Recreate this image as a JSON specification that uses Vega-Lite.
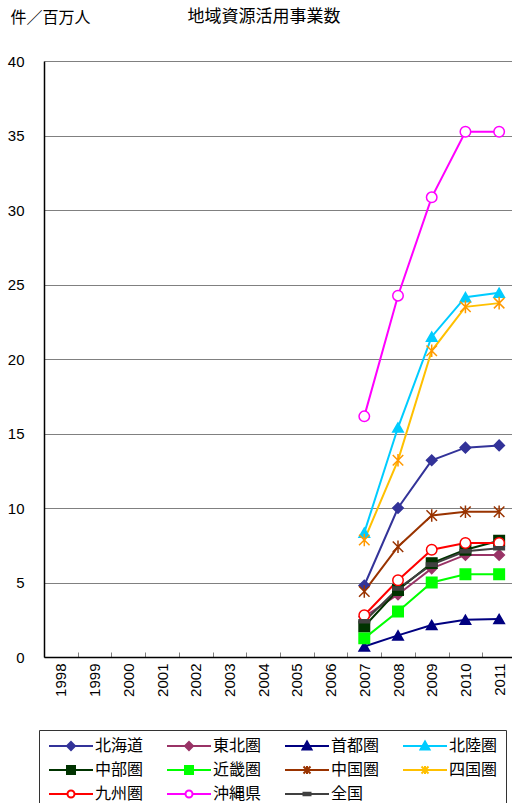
{
  "$schema": "https://vega.github.io/schema/vega-lite/v6.json",
  "autosize": {"type": "none"},
  "padding": {"left": 44, "top": 61, "right": 0, "bottom": 146},
  "width": 468,
  "height": 596,
  "background": "white",
  "title": {"text": "地域資源活用事業数", "anchor": "middle", "frame": "group", "dx": -14, "offset": 0, "dy": 25, "baseline": "middle", "fontSize": 17, "fontWeight": "normal", "font": "Noto Sans CJK JP", "color": "black"},
  "config": {"view": {"stroke": null}},
  "resolve": {"legend": {"color": "independent", "shape": "independent", "fill": "independent", "stroke": "independent"}},
  "data": {"values": [
    {"region": "北海道", "year": "2007", "value": 4.8},
    {"region": "北海道", "year": "2008", "value": 10.0},
    {"region": "北海道", "year": "2009", "value": 13.2},
    {"region": "北海道", "year": "2010", "value": 14.05},
    {"region": "北海道", "year": "2011", "value": 14.2},
    {"region": "東北圏", "year": "2007", "value": 2.7},
    {"region": "東北圏", "year": "2008", "value": 4.2},
    {"region": "東北圏", "year": "2009", "value": 5.95},
    {"region": "東北圏", "year": "2010", "value": 6.85},
    {"region": "東北圏", "year": "2011", "value": 6.85},
    {"region": "首都圏", "year": "2007", "value": 0.7},
    {"region": "首都圏", "year": "2008", "value": 1.45},
    {"region": "首都圏", "year": "2009", "value": 2.15},
    {"region": "首都圏", "year": "2010", "value": 2.5},
    {"region": "首都圏", "year": "2011", "value": 2.55},
    {"region": "北陸圏", "year": "2007", "value": 8.35},
    {"region": "北陸圏", "year": "2008", "value": 15.4},
    {"region": "北陸圏", "year": "2009", "value": 21.5},
    {"region": "北陸圏", "year": "2010", "value": 24.15},
    {"region": "北陸圏", "year": "2011", "value": 24.45},
    {"region": "中部圏", "year": "2007", "value": 2.05},
    {"region": "中部圏", "year": "2008", "value": 4.5},
    {"region": "中部圏", "year": "2009", "value": 6.3},
    {"region": "中部圏", "year": "2010", "value": 7.2},
    {"region": "中部圏", "year": "2011", "value": 7.8},
    {"region": "近畿圏", "year": "2007", "value": 1.25},
    {"region": "近畿圏", "year": "2008", "value": 3.05},
    {"region": "近畿圏", "year": "2009", "value": 5.0},
    {"region": "近畿圏", "year": "2010", "value": 5.55},
    {"region": "近畿圏", "year": "2011", "value": 5.55},
    {"region": "中国圏", "year": "2007", "value": 4.4},
    {"region": "中国圏", "year": "2008", "value": 7.4},
    {"region": "中国圏", "year": "2009", "value": 9.5},
    {"region": "中国圏", "year": "2010", "value": 9.75},
    {"region": "中国圏", "year": "2011", "value": 9.75},
    {"region": "四国圏", "year": "2007", "value": 7.85},
    {"region": "四国圏", "year": "2008", "value": 13.2},
    {"region": "四国圏", "year": "2009", "value": 20.55},
    {"region": "四国圏", "year": "2010", "value": 23.5},
    {"region": "四国圏", "year": "2011", "value": 23.75},
    {"region": "九州圏", "year": "2007", "value": 2.8},
    {"region": "九州圏", "year": "2008", "value": 5.15},
    {"region": "九州圏", "year": "2009", "value": 7.2},
    {"region": "九州圏", "year": "2010", "value": 7.65},
    {"region": "九州圏", "year": "2011", "value": 7.65},
    {"region": "沖縄県", "year": "2007", "value": 16.15},
    {"region": "沖縄県", "year": "2008", "value": 24.25},
    {"region": "沖縄県", "year": "2009", "value": 30.85},
    {"region": "沖縄県", "year": "2010", "value": 35.25},
    {"region": "沖縄県", "year": "2011", "value": 35.25},
    {"region": "全国", "year": "2007", "value": 2.4},
    {"region": "全国", "year": "2008", "value": 4.6},
    {"region": "全国", "year": "2009", "value": 6.2},
    {"region": "全国", "year": "2010", "value": 7.1},
    {"region": "全国", "year": "2011", "value": 7.3}
  ]},
  "encoding": {
    "x": {"field": "year", "type": "ordinal",
      "scale": {"domain": ["1998","1999","2000","2001","2002","2003","2004","2005","2006","2007","2008","2009","2010","2011"], "range": [0, 472], "paddingInner": 0, "paddingOuter": 0},
      "axis": {"title": null, "labelAngle": 270, "labelAlign": "right", "labelBaseline": "middle", "labelFontSize": 15, "labelFont": "Liberation Sans", "labelColor": "black", "labelPadding": 11, "tickBand": "extent", "tickSize": -5, "tickColor": "#808080", "domainColor": "black", "domainWidth": 1.5, "grid": false}},
    "y": {"field": "value", "type": "quantitative",
      "scale": {"domain": [0, 40], "nice": false},
      "axis": {"values": [0,5,10,15,20,25,30,35,40], "ticks": false, "labelPadding": 20, "labelFontSize": 15, "labelFont": "Liberation Sans", "labelColor": "black", "grid": true, "gridColor": "#808080", "gridWidth": 1, "domainColor": "black", "domainWidth": 1.5,
        "title": "件／百万人", "titleAngle": 0, "titleAlign": "left", "titleBaseline": "middle", "titleX": -34, "titleY": -44, "titleFont": "Noto Sans CJK JP", "titleFontSize": 16, "titleFontWeight": "normal", "titleColor": "black"}}
  },
  "layer": [
    {
      "mark": {"type": "line", "strokeWidth": 2},
      "encoding": {
        "color": {"field": "region", "type": "nominal",
          "scale": {"domain": ["北海道","東北圏","首都圏","北陸圏","中部圏","近畿圏","中国圏","四国圏","九州圏","沖縄県","全国"],
                    "range": ["#333399","#993366","#000080","#00CCFF","#003300","#00FF00","#993300","#FFC000","#FF0000","#FF00FF","#404040"]},
          "legend": {"title": null, "orient": "none", "legendX": -5, "legendY": 669, "direction": "horizontal", "columns": 4,
            "padding": 8, "strokeColor": "#333333", "fillColor": "white",
            "symbolSize": 100, "symbolOffset": 16, "labelOffset": 16, "columnPadding": 19, "rowPadding": 8,
            "labelFont": "Noto Sans CJK JP", "labelFontSize": 16, "labelColor": "black", "symbolStrokeWidth": 2,
            "encode": {"symbols": {"update": {
              "shape": {"signal": "['M-4.4,0H4.4M0,-0.8L0.8,0L0,0.8L-0.8,0Z','M-4.4,0H4.4M0,-0.8L0.8,0L0,0.8L-0.8,0Z','M-4.4,0H4.4M0,-0.9L0.9,0.7L-0.9,0.7Z','M-4.4,0H4.4M0,-0.9L0.9,0.7L-0.9,0.7Z','M-4.4,0H4.4M-0.8,-0.8H0.8V0.8H-0.8Z','M-4.4,0H4.4M-0.8,-0.8H0.8V0.8H-0.8Z','M-4.4,0H4.4M-0.7,-0.7L0.7,0.7M-0.7,0.7L0.7,-0.7M0,-0.8V0.8','M-4.4,0H4.4M-0.7,-0.7L0.7,0.7M-0.7,0.7L0.7,-0.7M0,-0.8V0.8','M-4.4,0H-0.7M0.7,0H4.4M-0.7,0A0.7,0.7,0,1,0,0.7,0A0.7,0.7,0,1,0,-0.7,0Z','M-4.4,0H-0.7M0.7,0H4.4M-0.7,0A0.7,0.7,0,1,0,0.7,0A0.7,0.7,0,1,0,-0.7,0Z','M-4.4,0H4.4M-0.7,-0.25H0.7V0.25H-0.7Z'][indexof(['北海道','東北圏','首都圏','北陸圏','中部圏','近畿圏','中国圏','四国圏','九州圏','沖縄県','全国'], datum.value)]"},
              "fill": {"signal": "indexof(['九州圏','沖縄県'], datum.value) >= 0 ? 'white' : scale('color', datum.value)"},
              "stroke": {"signal": "scale('color', datum.value)"},
              "strokeWidth": {"value": 2},
              "opacity": {"value": 1}
            }}}
          }}
      }
    },
    {
      "mark": {"type": "point", "size": 110, "strokeWidth": 1.5, "opacity": 1},
      "encoding": {
        "shape": {"field": "region", "type": "nominal", "legend": null,
          "scale": {"domain": ["北海道","東北圏","首都圏","北陸圏","中部圏","近畿圏","中国圏","四国圏","九州圏","沖縄県","全国"],
                    "range": ["diamond","diamond","triangle-up","triangle-up","square","square","M-1,-1L1,1M-1,1L1,-1M0,-1.2V1.2","M-1,-1L1,1M-1,1L1,-1M0,-1.2V1.2","circle","circle","M-1,-0.3H1V0.3H-1Z"]}},
        "fill": {"field": "region", "type": "nominal", "legend": null,
          "scale": {"domain": ["北海道","東北圏","首都圏","北陸圏","中部圏","近畿圏","中国圏","四国圏","九州圏","沖縄県","全国"],
                    "range": ["#333399","#993366","#000080","#00CCFF","#003300","#00FF00","#993300","#FF9900","white","white","#404040"]}},
        "stroke": {"field": "region", "type": "nominal", "legend": null,
          "scale": {"domain": ["北海道","東北圏","首都圏","北陸圏","中部圏","近畿圏","中国圏","四国圏","九州圏","沖縄県","全国"],
                    "range": ["#333399","#993366","#000080","#00CCFF","#003300","#00FF00","#993300","#FF9900","#FF0000","#FF00FF","#404040"]}}
      }
    }
  ]
}
